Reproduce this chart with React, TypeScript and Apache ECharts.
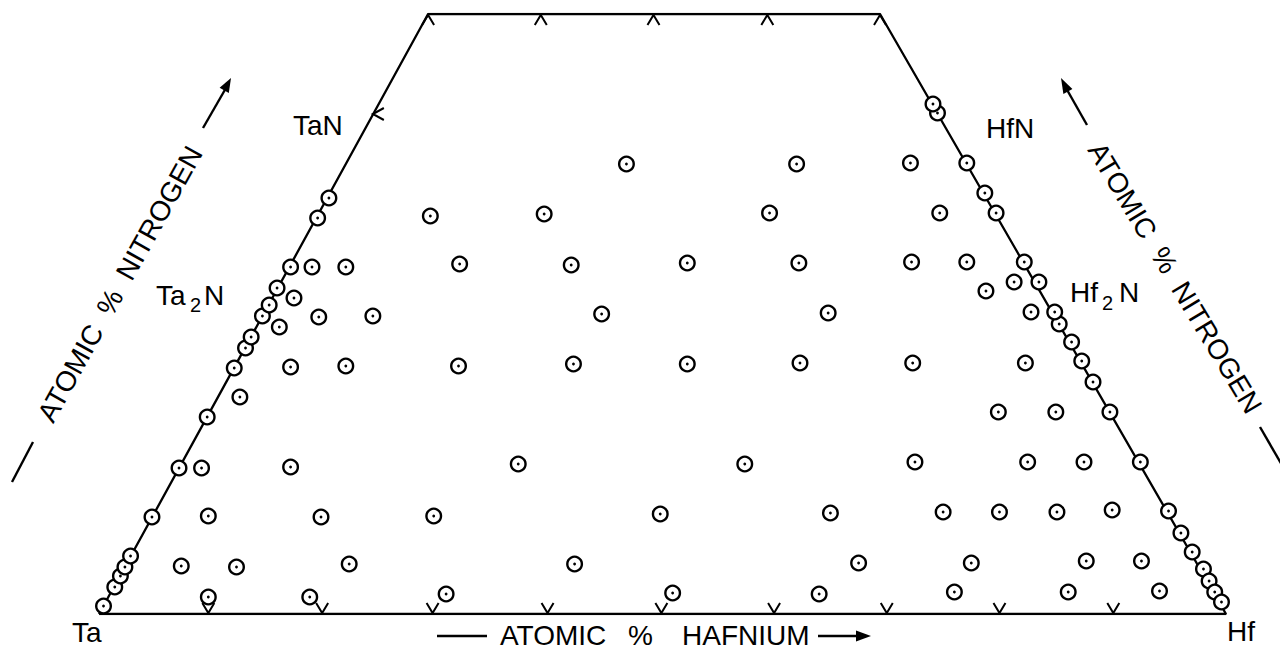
import React, { useEffect, useRef } from "react";
import * as echarts from "echarts";

const FONT = '"Liberation Sans", Arial, Helvetica, sans-serif';

// Outline of the Ta–Hf–N isothermal section (x: position along Ta→Hf base, y: at.% N)
const outlineX = [0, 100, 69.3, 29.2, 0];
const outlineY = [0, 0, 60, 60, 0];

// Tick marks
const baseTicksX = [9.7, 19.8, 29.6, 39.8, 49.9, 59.9, 69.9, 79.9, 90.0];
const topTicksX = [29.2, 39.2, 49.2, 59.3, 69.3];
const taNTick = [[24.3, 50]];

// Alloys lying on the Ta–N edge
const taEdgePoints = [
  [0.4, 0.8], [1.4, 2.7], [1.9, 3.8], [2.3, 4.7], [2.8, 5.8], [4.7, 9.7],
  [7.1, 14.6], [9.6, 19.7], [12.0, 24.6], [13.0, 26.6], [13.5, 27.7],
  [14.5, 29.8], [15.1, 30.9], [15.8, 32.6], [17.0, 34.7], [19.4, 39.6], [20.4, 41.6],
];

// Alloys lying on the Hf–N edge
const hfEdgePoints = [
  [74.4, 50.1], [74.0, 51.0], [77.0, 45.1], [78.6, 42.1], [79.6, 40.1],
  [82.1, 35.2], [83.4, 33.2], [85.2, 29.0], [84.8, 30.2], [86.3, 27.2],
  [87.2, 25.3], [88.2, 23.2], [89.7, 20.2], [92.4, 15.2], [94.9, 10.3],
  [96.0, 8.1], [97.0, 6.2], [98.0, 4.5], [98.5, 3.3], [99.0, 2.2], [99.6, 1.2],
];

// Ternary alloys inside the section
const interiorPoints = [
  [46.8, 45.0], [61.9, 45.0], [72.0, 45.1],
  [29.4, 39.8], [39.5, 40.0], [59.5, 40.1], [74.6, 40.1],
  [18.9, 34.7], [21.9, 34.7], [32.0, 35.0], [41.9, 34.9], [52.2, 35.1], [62.1, 35.1], [72.1, 35.2], [77.0, 35.2],
  [17.3, 31.6], [81.2, 33.2], [78.7, 32.3],
  [19.5, 29.7], [24.3, 29.8], [44.6, 30.0], [64.7, 30.1], [82.7, 30.2],
  [16.0, 28.7],
  [17.0, 24.7], [21.9, 24.8], [31.9, 24.8], [42.1, 25.0], [52.2, 25.0], [62.2, 25.1], [72.2, 25.1], [82.2, 25.1],
  [12.5, 21.7],
  [79.8, 20.2], [84.9, 20.2],
  [9.1, 14.6], [17.0, 14.7], [37.2, 15.0], [57.3, 15.0], [72.4, 15.2], [82.4, 15.2], [87.4, 15.2],
  [9.7, 9.8], [19.7, 9.7], [29.7, 9.8], [49.8, 10.0], [64.9, 10.1], [74.9, 10.2], [79.9, 10.2], [85.0, 10.2], [89.9, 10.4],
  [7.3, 4.8], [12.2, 4.7], [22.2, 5.0], [42.2, 5.0], [67.4, 5.1], [77.4, 5.1], [87.6, 5.3], [92.5, 5.3],
  [9.7, 1.7], [18.7, 1.7], [30.8, 2.0], [50.9, 2.1], [63.9, 2.0], [75.9, 2.2], [86.0, 2.2], [94.1, 2.3],
];

const ringSeries = (name: string, data: number[][]) => ({
  name,
  type: "custom",
  coordinateSystem: "cartesian2d",
  data,
  encode: { x: 0, y: 1 },
  z: 5,
  clip: false,
  renderItem: (_params: any, api: any) => {
    const p = api.coord([api.value(0), api.value(1)]);
    return {
      type: "group",
      children: [
        { type: "circle", shape: { cx: p[0], cy: p[1], r: 7.3 }, style: { fill: "#fff", stroke: "#000", lineWidth: 2.4 } },
        { type: "circle", shape: { cx: p[0], cy: p[1], r: 1.4 }, style: { fill: "#000" } },
      ],
    };
  },
});

const tickSeries = (name: string, data: number[][], shape: (x: number, y: number) => number[][]) => ({
  name,
  type: "custom",
  coordinateSystem: "cartesian2d",
  data,
  encode: { x: 0, y: 1 },
  z: 3,
  clip: false,
  renderItem: (_params: any, api: any) => {
    const p = api.coord([api.value(0), api.value(1)]);
    return {
      type: "polyline",
      shape: { points: shape(p[0], p[1]) },
      style: { fill: "none", stroke: "#000", lineWidth: 2 },
    };
  },
});

const txt = (text: string, x: number, y: number, size = 28, align = "left", rotation = 0) => ({
  type: "text",
  x,
  y,
  rotation,
  style: {
    text,
    font: `${size}px ${FONT}`,
    fill: "#000",
    textAlign: align,
    align,
    textVerticalAlign: "middle",
    verticalAlign: "middle",
  },
});

const seg = (x1: number, y1: number, x2: number, y2: number) => ({
  type: "line",
  shape: { x1, y1, x2, y2 },
  style: { stroke: "#000", lineWidth: 2.4 },
});

const head = (pts: number[][]) => ({
  type: "polygon",
  shape: { points: pts },
  style: { fill: "#000" },
});

export default function App() {
  const ref = useRef<HTMLDivElement>(null);

  useEffect(() => {
    if (!ref.current) return;
    const chart = echarts.init(ref.current, null, { renderer: "svg" });
    const deg = Math.PI / 180;
    chart.setOption({
      animation: false,
      backgroundColor: "#fff",
      grid: { left: 99, right: 54, top: 14, bottom: 36 },
      xAxis: { type: "value", min: 0, max: 100, show: false },
      yAxis: { type: "value", min: 0, max: 60, show: false },
      series: [
        {
          name: "outline",
          type: "line",
          data: outlineX.map((x, i) => [x, outlineY[i]]),
          symbol: "none",
          lineStyle: { color: "#000", width: 2.3 },
          z: 2,
          silent: true,
        },
        tickSeries("base ticks", baseTicksX.map((x) => [x, 0]), (x, y) => [[x - 6, y - 11], [x, y - 1], [x + 6, y - 11]]),
        tickSeries("top ticks", topTicksX.map((x) => [x, 60]), (x, y) => [[x - 6, y + 11], [x, y + 1], [x + 6, y + 11]]),
        tickSeries("TaN tick", taNTick, (x, y) => [[x + 11, y - 6], [x, y], [x + 11, y + 6]]),
        ringSeries("Ta–N edge", taEdgePoints),
        ringSeries("Hf–N edge", hfEdgePoints),
        ringSeries("ternary", interiorPoints),
      ],
      graphic: [
        txt("TaN", 293, 125),
        txt("Ta", 156, 295),
        txt("2", 190, 305, 20),
        txt("N", 204, 295),
        txt("HfN", 986, 128),
        txt("Hf", 1070, 292),
        txt("2", 1102, 303, 20),
        txt("N", 1119, 292),
        txt("Ta", 72, 632),
        txt("Hf", 1227, 631),
        // base label
        txt("ATOMIC", 500, 635),
        txt("%", 628, 635),
        txt("HAFNIUM", 682, 635),
        seg(437, 636, 487, 636),
        seg(818, 636, 860, 636),
        head([[871, 636], [856, 630.5], [856, 641.5]]),
        // left label
        txt("ATOMIC  %  NITROGEN", 120, 284, 28, "center", 61 * deg),
        seg(12, 482, 33, 442),
        seg(203, 128, 226, 88),
        head([[231, 78], [228.8, 93], [219.6, 87.8]]),
        // right label
        txt("ATOMIC  %  NITROGEN", 1175, 278, 28, "center", -59 * deg),
        seg(1260, 427, 1286, 472),
        seg(1087, 125, 1066, 88),
        head([[1061, 78], [1072.4, 88.9], [1063.4, 94]]),
      ],
    });
    return () => chart.dispose();
  }, []);

  return (
    <div
      ref={ref}
      style={{ position: "absolute", left: 0, top: 0, width: 1280, height: 650, background: "#fff" }}
    />
  );
}
